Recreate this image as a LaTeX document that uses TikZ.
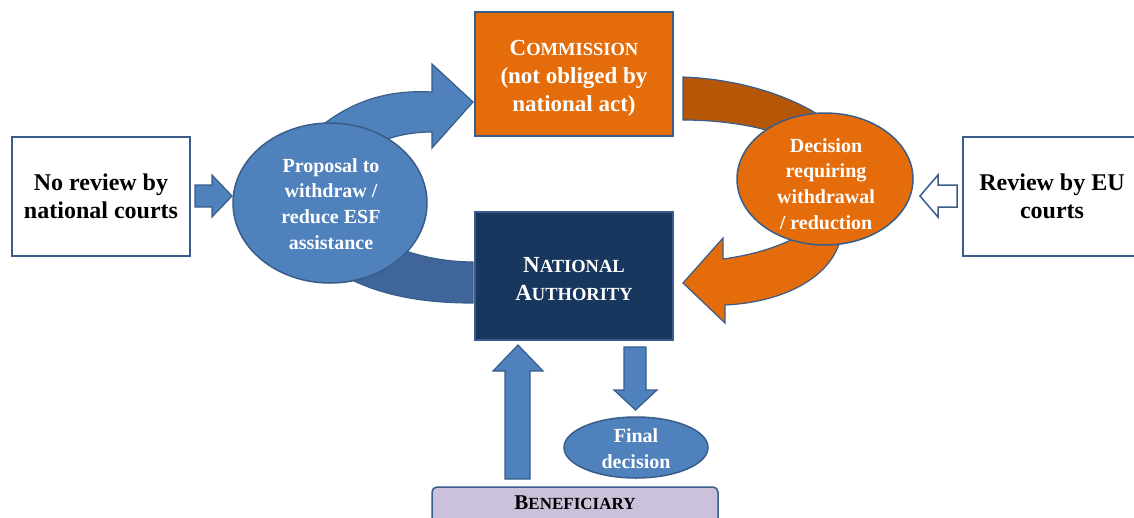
\documentclass[tikz,border=0pt]{standalone}
\usepackage{fontspec}
\setmainfont{Liberation Serif}
\usetikzlibrary{shapes.geometric}
\definecolor{cblue}{HTML}{4F81BD}
\definecolor{cbord}{HTML}{385D8A}
\definecolor{cdark}{HTML}{3F659B}
\definecolor{cbrown}{HTML}{B65708}
\definecolor{corange}{HTML}{E46C0A}
\definecolor{cnavy}{HTML}{17375E}
\definecolor{cpurple}{HTML}{CCC1DA}
\newcommand{\fakesc}[3]{#1{\fontsize{#3}{#3}\selectfont #2}}
\begin{document}
\begin{tikzpicture}[x=1pt,y=-1pt,
  wbox/.style={draw=cbord,line width=1.8pt,fill=white,inner sep=0pt,
    font=\bfseries\fontsize{24}{28}\selectfont,align=center},
  cbox/.style={draw=cbord,line width=1.8pt,inner sep=0pt,text=white,
    font=\bfseries\fontsize{23}{28}\selectfont,align=center},
  ell/.style={ellipse,draw=cbord,line width=1.5pt,inner sep=0pt},
  etext/.style={text=white,font=\bfseries\fontsize{20}{25.8}\selectfont,align=center,inner sep=0pt},
  barrow/.style={fill=cblue,draw=cbord,line width=1.2pt,line join=miter}
]
\useasboundingbox (0,0) rectangle (1134,517);

% curved bands / arrows behind ellipses
\draw[barrow] (320,127) .. controls (357,97) and (395,90) .. (432,92)
  -- (432,64) -- (473,102) -- (432,148) -- (432,132)
  .. controls (395,132) and (365,145) .. (345,165) -- cycle;
\draw[fill=cdark,draw=cbord,line width=1.2pt] (390,245)
  .. controls (415,256) and (445,262) .. (473,262) -- (473,303)
  .. controls (425,303) and (385,296) .. (352,280) -- (330,250) -- cycle;
\draw[fill=cbrown,draw=cbord,line width=1.2pt] (683,77)
  .. controls (735,79) and (785,93) .. (822,117) -- (800,160) -- (770,131)
  .. controls (745,124) and (715,120) .. (683,120) -- cycle;
\draw[fill=corange,draw=cbord,line width=1.2pt] (683,283) -- (723,238) -- (723,259)
  .. controls (752,255) and (775,248) .. (795,238) -- (842,228)
  .. controls (840,272) and (790,302) .. (725,305) -- (725,323) -- cycle;

% boxes
\node[wbox,minimum width=178pt,minimum height=119pt] (nrev) at (101,196.5)
  {No review by\\national courts};
\node[wbox,minimum width=178pt,minimum height=119pt] (eurev) at (1052,196.5)
  {Review by EU\\courts};
\node[cbox,fill=corange,minimum width=198pt,minimum height=124pt] (com) at (574,74) {};
\node[cbox,fill=none,draw=none] (comt) at (574,78)
  {\fakesc{C}{OMMISSION}{18.5}\\(not obliged by\\national act)};
\node[cbox,fill=cnavy,minimum width=198pt,minimum height=128pt] (nat) at (574,276) {};
\node[cbox,fill=none,draw=none] (natt) at (574,279)
  {\fakesc{N}{ATIONAL}{18.5}\\\fakesc{A}{UTHORITY}{18.5}};
\node[draw=cbord,line width=1.5pt,fill=cpurple,rounded corners=5pt,minimum width=286pt,
  minimum height=38pt,inner sep=0pt] (ben) at (575,506) {};
\node[inner sep=0pt,font=\bfseries\fontsize{21}{24}\selectfont] (bent) at (575,503)
  {\fakesc{B}{ENEFICIARY}{17}};

% ellipses
\node[ell,fill=cblue,minimum width=194pt,minimum height=160pt] (prop) at (330,203) {};
\node[etext] (propt) at (331,204) {Proposal to\\withdraw /\\reduce ESF\\assistance};
\node[ell,fill=corange,minimum width=176pt,minimum height=132pt] (dec) at (825,179) {};
\node[etext] (dect) at (826,184) {Decision\\requiring\\withdrawal\\/ reduction};
\node[ell,fill=cblue,minimum width=144pt,minimum height=61pt] (fin) at (636,447.5) {};
\node[etext] (fint) at (636,448.5) {Final\\decision};

% straight block arrows
\draw[barrow] (195,185) -- (212,185) -- (212,175) -- (232,196) -- (212,217)
  -- (212,207) -- (195,207) -- cycle;
\draw[fill=white,draw=cbord,line width=1.5pt] (957,185) -- (938,185) -- (938,175)
  -- (920,196) -- (938,217) -- (938,207) -- (957,207) -- cycle;
\draw[barrow] (505,479) -- (505,371) -- (493,371) -- (518,345) -- (543,371)
  -- (530,371) -- (530,479) -- cycle;
\draw[barrow] (624,347) -- (646,347) -- (646,390) -- (657,390) -- (635.5,410)
  -- (614,390) -- (624,390) -- cycle;
\end{tikzpicture}
\end{document}
